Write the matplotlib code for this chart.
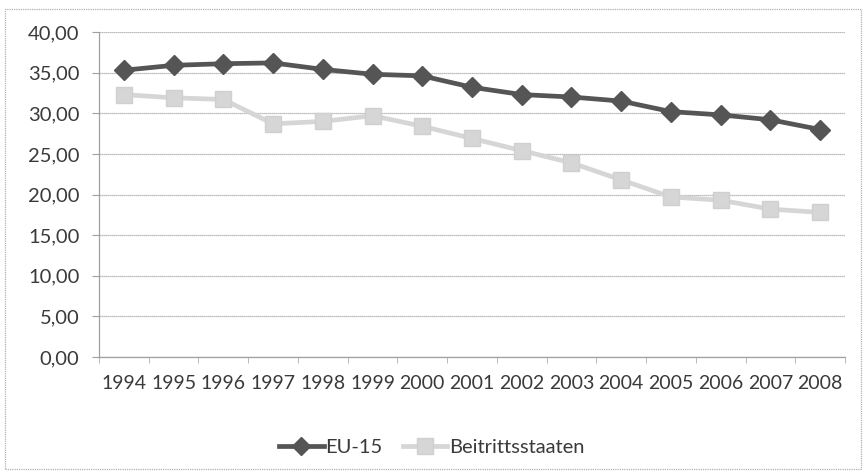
import matplotlib
matplotlib.use("Agg")
import matplotlib.pyplot as plt
from matplotlib.lines import Line2D
from matplotlib.patches import Rectangle

years = [str(y) for y in range(1994, 2009)]
eu15 = [35.3, 35.9, 36.1, 36.2, 35.4, 34.8, 34.6, 33.2, 32.3, 32.0,
        31.5, 30.2, 29.8, 29.2, 28.0]
beitritt = [32.3, 31.9, 31.7, 28.7, 29.0, 29.7, 28.4, 26.9, 25.4, 23.9,
            21.8, 19.7, 19.3, 18.2, 17.8]
y_ticks = [0, 5, 10, 15, 20, 25, 30, 35, 40]

plt.rcParams['font.family'] = ['Lato', 'DejaVu Sans']
text_color = '#3a3a3a'

fig = plt.figure(figsize=(8.64, 4.75), dpi=100)
ax = fig.add_axes([0.1146, 0.2484, 0.8634, 0.6842])

x = list(range(len(years)))
ax.plot(x, eu15, color='#555555', lw=3.4, marker='D', ms=10,
        markeredgecolor='#555555', label='EU-15', zorder=4)
ax.plot(x, beitritt, color='#d6d6d6', lw=3.4, marker='s', ms=11,
        markeredgecolor='#d0d0d0', label='Beitrittsstaaten', zorder=3)

ax.set_xlim(-0.5, len(years) - 0.5)
ax.set_ylim(0, 40)
ax.set_yticks(y_ticks)
ax.set_yticklabels([f"{v:.2f}".replace('.', ',') for v in y_ticks])
ax.set_xticks(x)
ax.set_xticklabels(years)
ax.set_xticks([i - 0.5 for i in range(len(years) + 1)], minor=True)

ax.grid(axis='y', color='#a8a8a8', lw=0.9, ls=(0, (1, 0.6)))
ax.set_axisbelow(True)
for side in ['top', 'right']:
    ax.spines[side].set_visible(False)
ax.spines['left'].set_color('#a0a0a0')
ax.spines['bottom'].set_color('#a0a0a0')
ax.spines['left'].set_linewidth(0.9)
ax.spines['bottom'].set_linewidth(0.9)

ax.tick_params(axis='x', which='major', length=0, pad=13,
               labelsize=14, labelcolor=text_color)
ax.tick_params(axis='x', which='minor', length=4, color='#b0b0b0')
ax.tick_params(axis='y', length=5, color='#a0a0a0', pad=9,
               labelsize=14.5, labelcolor=text_color)

handles = [
    Line2D([], [], color='#555555', lw=3.4, marker='D', ms=9),
    Line2D([], [], color='#d6d6d6', lw=3.4, marker='s', ms=11,
           markeredgecolor='#d0d0d0'),
]
fig.legend(handles, ['EU-15', 'Beitrittsstaaten'], loc='center',
           bbox_to_anchor=(0.5, 0.058), ncol=2, frameon=False,
           fontsize=14.5, labelcolor=text_color, handlelength=2.2,
           handletextpad=0.1, columnspacing=1.0)

# dotted frame around the whole chart area
fig.patches.append(Rectangle((0.006, 0.012), 0.99, 0.97,
                             transform=fig.transFigure, fill=False,
                             edgecolor='#b0b0b0', lw=0.9,
                             ls=(0, (1, 0.8))))

fig.savefig('out.png', dpi=100)
